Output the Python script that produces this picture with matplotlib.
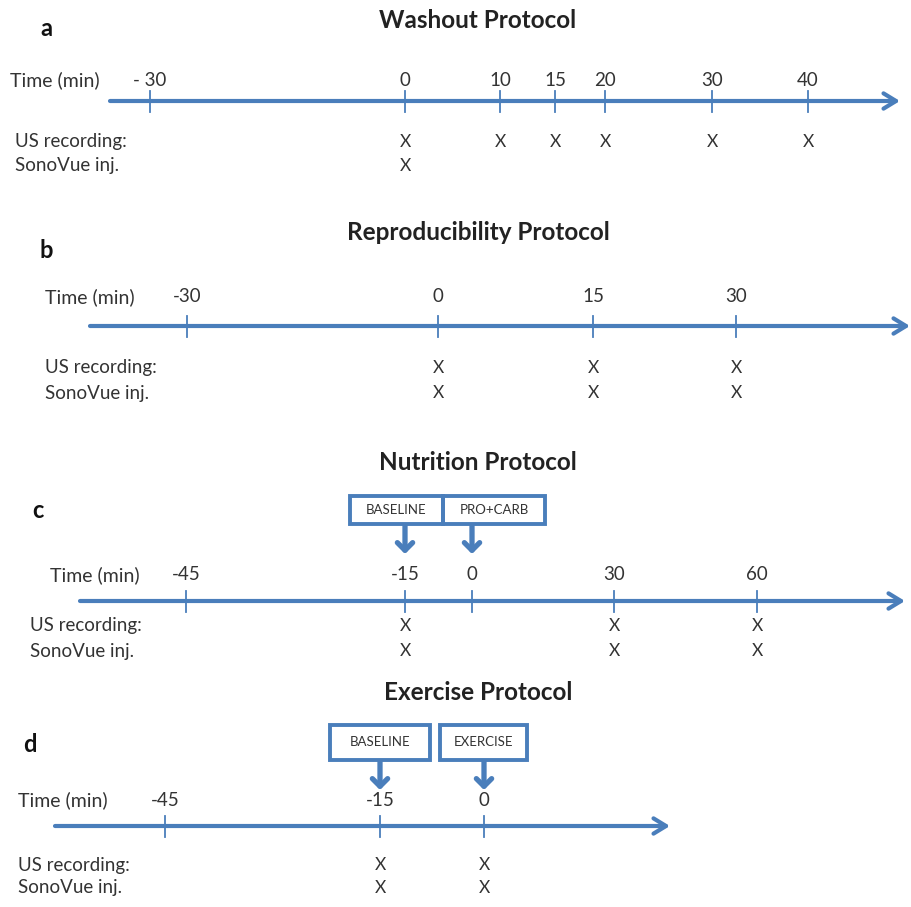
import matplotlib.pyplot as plt

BLUE = '#4a7ebb'
FONT = 'Lato'

# ---------------- data ----------------
titles = ['Washout Protocol', 'Reproducibility Protocol', 'Nutrition Protocol', 'Exercise Protocol']
letters = ['a', 'b', 'c', 'd']

a_times = [-30, 0, 10, 15, 20, 30, 40]
a_us = [0, 10, 15, 20, 30, 40]
a_sono = [0]

b_times = [-30, 0, 15, 30]
b_us = [0, 15, 30]
b_sono = [0, 15, 30]

c_times = [-45, -15, 0, 30, 60]
c_us = [-15, 30, 60]
c_sono = [-15, 30, 60]
c_events = ['BASELINE', 'PRO+CARB']
c_event_times = [-15, 0]

d_times = [-45, -15, 0]
d_us = [-15, 0]
d_sono = [-15, 0]
d_events = ['BASELINE', 'EXERCISE']
d_event_times = [-15, 0]

# ---------------- layout (pixel positions of the schematic) ----------------
panels = [
    dict(times=a_times, us=a_us, sono=a_sono, events=None, ev_times=None,
         xpos=[150, 405, 500, 555, 605, 712, 808], tick_labels=['- 30', '0', '10', '15', '20', '30', '40'],
         title_y=21, letter_xy=(46, 28), time_xy=(10, 80), axis_y=101, axis_x=(110, 900),
         lab_x=15, us_y=142, sono_y=166, box=None),
    dict(times=b_times, us=b_us, sono=b_sono, events=None, ev_times=None,
         xpos=[187, 438, 593, 736], tick_labels=['-30', '0', '15', '30'],
         title_y=233, letter_xy=(46, 250), time_xy=(45, 297), axis_y=326, axis_x=(90, 910),
         lab_x=45, us_y=368, sono_y=393, box=None),
    dict(times=c_times, us=c_us, sono=c_sono, events=c_events, ev_times=c_event_times,
         xpos=[186, 405, 472, 614, 757], tick_labels=['-45', '-15', '0', '30', '60'],
         title_y=463, letter_xy=(38, 510), time_xy=(50, 575), axis_y=601, axis_x=(80, 905),
         lab_x=30, us_y=626, sono_y=651,
         box=[(350, 443, 496, 524), (443, 545, 496, 524)], arrow=(526, 554)),
    dict(times=d_times, us=d_us, sono=d_sono, events=d_events, ev_times=d_event_times,
         xpos=[165, 380, 484], tick_labels=['-45', '-15', '0'],
         title_y=693, letter_xy=(30, 744), time_xy=(18, 800), axis_y=826, axis_x=(55, 670),
         lab_x=18, us_y=865, sono_y=888,
         box=[(330, 430, 725, 760), (440, 527, 725, 760)], arrow=(762, 790)),
]

fig = plt.figure(figsize=(9.12, 9.07), dpi=100)
ax = fig.add_axes([0, 0, 1, 1])
ax.set_xlim(0, 912)
ax.set_ylim(907, 0)
ax.axis('off')

for i, p in enumerate(panels):
    pos = dict(zip(p['times'], p['xpos']))
    ax.text(478, p['title_y'], titles[i], fontsize=17.5, fontweight='bold', family=FONT,
            ha='center', va='center', color='#222222')
    ax.text(p['letter_xy'][0], p['letter_xy'][1], letters[i], fontsize=17, fontweight='bold',
            family=FONT, ha='center', va='center', color='#111111')
    ax.text(p['time_xy'][0], p['time_xy'][1], 'Time (min)', fontsize=14, family=FONT,
            ha='left', va='center', color='#333333')
    for t, lab in zip(p['times'], p['tick_labels']):
        ax.text(pos[t], p['time_xy'][1], lab, fontsize=13.5, family=FONT,
                ha='center', va='center', color='#333333')
        ax.plot([pos[t], pos[t]], [p['axis_y'] - 10, p['axis_y'] + 11], color=BLUE, lw=1.3)
    ax.annotate('', xy=(p['axis_x'][1], p['axis_y']), xytext=(p['axis_x'][0], p['axis_y']),
                arrowprops=dict(arrowstyle='->,head_length=0.9,head_width=0.55', lw=3,
                                color=BLUE, shrinkA=0, shrinkB=0))
    ax.text(p['lab_x'], p['us_y'], 'US recording:', fontsize=13.5, family=FONT,
            ha='left', va='center', color='#333333')
    ax.text(p['lab_x'], p['sono_y'], 'SonoVue inj.', fontsize=13.5, family=FONT,
            ha='left', va='center', color='#333333')
    for t in p['us']:
        ax.text(pos[t], p['us_y'], 'X', fontsize=12.5, family=FONT, ha='center', va='center', color='#333333')
    for t in p['sono']:
        ax.text(pos[t], p['sono_y'], 'X', fontsize=12.5, family=FONT, ha='center', va='center', color='#333333')

    if p['box'] is not None:
        for (x0, x1, y0, y1), ev, t in zip(p['box'], p['events'], p['ev_times']):
            ax.add_patch(plt.Rectangle((x0, y0), x1 - x0, y1 - y0, fill=False,
                                       edgecolor=BLUE, lw=2.8))
            ax.text((x0 + x1) / 2, (y0 + y1) / 2, ev, fontsize=9.5, family=FONT,
                    ha='center', va='center', color='#333333')
            ax.annotate('', xy=(pos[t], p['arrow'][1]), xytext=(pos[t], p['arrow'][0]),
                        arrowprops=dict(arrowstyle='->,head_length=0.55,head_width=0.55', lw=3.8,
                                        color=BLUE, shrinkA=0, shrinkB=0))

fig.savefig('out.png', dpi=100, facecolor='white')
